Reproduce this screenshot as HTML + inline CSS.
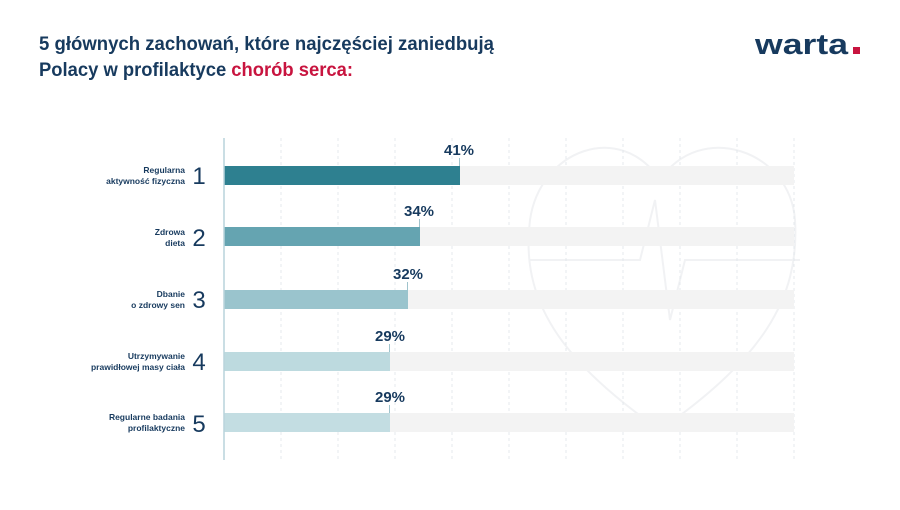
<!DOCTYPE html>
<html><head><meta charset="utf-8"><style>
body{margin:0;width:900px;height:505px;background:#fff;overflow:hidden;font-family:"Liberation Sans",sans-serif}
</style></head><body>
<svg width="900" height="505" viewBox="0 0 900 505" xmlns="http://www.w3.org/2000/svg">
<text x="39" y="50" font-size="19" font-weight="bold" fill="#173a5e" textLength="455" lengthAdjust="spacingAndGlyphs">5 głównych zachowań, które najczęściej zaniedbują</text>
<text x="39" y="76" font-size="19" font-weight="bold" fill="#173a5e" textLength="314" lengthAdjust="spacingAndGlyphs">Polacy w profilaktyce <tspan fill="#c8143f">chorób serca:</tspan></text>
<text x="755" y="54" font-size="29" font-weight="bold" fill="#173a5e" textLength="93" lengthAdjust="spacingAndGlyphs">warta</text>
<rect x="853" y="47" width="7" height="7" fill="#c8143f"/>
<path d="M660 430 C560 360 520 300 530 220 C540 150 620 120 660 180 C700 120 790 150 795 220 C800 300 760 360 660 430 Z" fill="none" stroke="#f1f2f4" stroke-width="2"/>
<path d="M530 260 L640 260 L655 200 L670 320 L685 260 L800 260" fill="none" stroke="#f1f2f4" stroke-width="2"/>
<g stroke="#e4e8ec" stroke-width="1" stroke-dasharray="3,3">
<line x1="281" y1="138" x2="281" y2="460"/><line x1="338" y1="138" x2="338" y2="460"/><line x1="395" y1="138" x2="395" y2="460"/><line x1="452" y1="138" x2="452" y2="460"/><line x1="509" y1="138" x2="509" y2="460"/><line x1="566" y1="138" x2="566" y2="460"/><line x1="623" y1="138" x2="623" y2="460"/><line x1="680" y1="138" x2="680" y2="460"/><line x1="737" y1="138" x2="737" y2="460"/><line x1="794" y1="138" x2="794" y2="460"/>
</g>
<g fill="#f3f3f3">
<rect x="224" y="166" width="570" height="19"/><rect x="224" y="227" width="570" height="19"/><rect x="224" y="290" width="570" height="19"/><rect x="224" y="352" width="570" height="19"/><rect x="224" y="413" width="570" height="19"/>
</g>
<rect x="224" y="166" width="236" height="19" fill="#2e8090"/>
<rect x="224" y="227" width="196" height="19" fill="#65a4b1"/>
<rect x="224" y="290" width="184" height="19" fill="#9ac4cd"/>
<rect x="224" y="352" width="166" height="19" fill="#bddadf"/>
<rect x="224" y="413" width="166" height="19" fill="#c3dde2"/>
<line x1="224" y1="138" x2="224" y2="460" stroke="#b9d3dc" stroke-width="1.5"/>
<g stroke="#9fc3cc" stroke-width="1">
<line x1="459.5" y1="158" x2="459.5" y2="166"/><line x1="419.5" y1="219" x2="419.5" y2="227"/><line x1="407.5" y1="282" x2="407.5" y2="290"/><line x1="389.5" y1="344" x2="389.5" y2="352"/><line x1="389.5" y1="405" x2="389.5" y2="413"/>
</g>
<g font-size="15" font-weight="bold" fill="#173a5e" text-anchor="middle">
<text x="459" y="155">41%</text><text x="419" y="216">34%</text><text x="408" y="279">32%</text><text x="390" y="341">29%</text><text x="390" y="402">29%</text>
</g>
<g font-size="24" fill="#173a5e" text-anchor="middle">
<text x="199" y="184">1</text><text x="199" y="246">2</text><text x="199" y="308">3</text><text x="199" y="370">4</text><text x="199" y="432">5</text>
</g>
<g font-size="8.5" font-weight="bold" fill="#173a5e" text-anchor="end">
<text x="185" y="173">Regularna</text><text x="185" y="184">aktywność fizyczna</text>
<text x="185" y="235">Zdrowa</text><text x="185" y="246">dieta</text>
<text x="185" y="297">Dbanie</text><text x="185" y="308">o zdrowy sen</text>
<text x="185" y="359">Utrzymywanie</text><text x="185" y="370">prawidłowej masy ciała</text>
<text x="185" y="420">Regularne badania</text><text x="185" y="431">profilaktyczne</text>
</g>
</svg>
</body></html>
